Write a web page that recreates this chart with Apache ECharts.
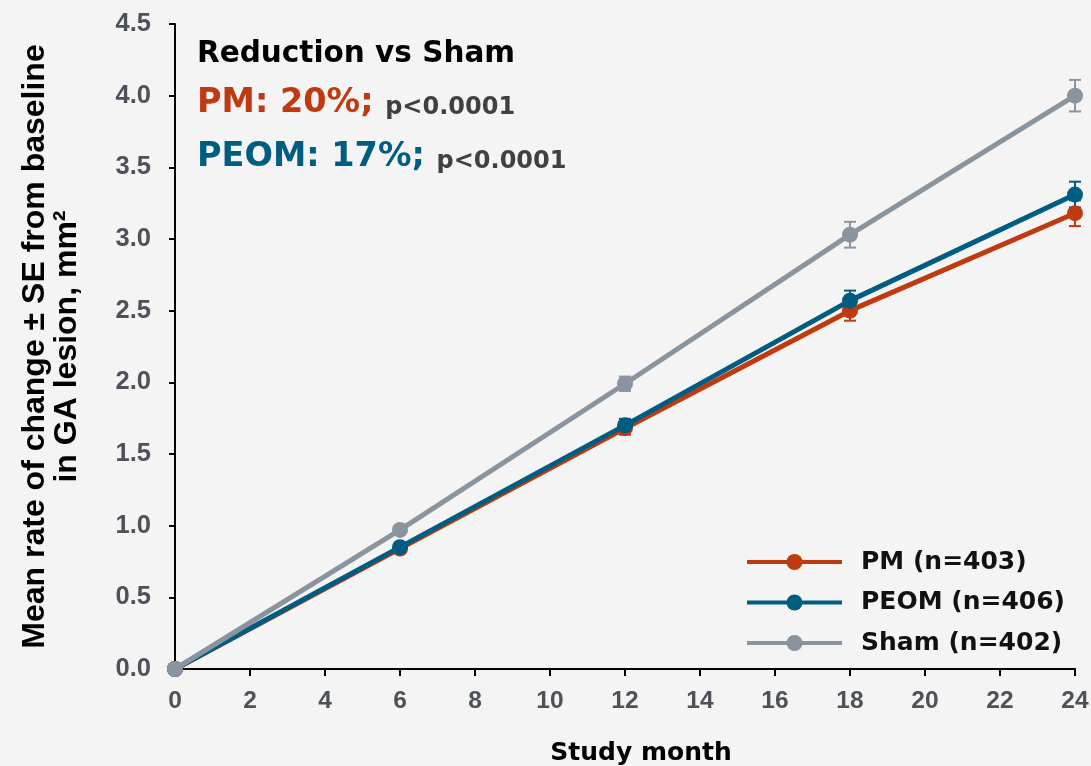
<!DOCTYPE html>
<html>
<head>
<meta charset="utf-8">
<script src="https://cdn.jsdelivr.net/npm/echarts@6/dist/echarts.min.js"></script>
<style>
  html, body { margin: 0; padding: 0; background: #f4f4f4; }
  #chart { width: 1091px; height: 766px; }
</style>
</head>
<body>
<div id="chart"></div>
<script>
// Study months at which the lesion change was assessed
const months = [0, 6, 12, 18, 24];

// Mean change from baseline in GA lesion area (mm²)
const pmMean   = [0, 0.84, 1.68, 2.50, 3.18];
const peomMean = [0, 0.85, 1.70, 2.57, 3.31];
const shamMean = [0, 0.97, 1.99, 3.03, 4.00];

// Standard errors
const pmSE   = [0, 0.02, 0.045, 0.07, 0.09];
const peomSE = [0, 0.02, 0.045, 0.07, 0.09];
const shamSE = [0, 0.02, 0.05, 0.09, 0.11];

const seriesNames = ['PM (n=403)', 'PEOM (n=406)', 'Sham (n=402)'];
const colors = { pm: '#c1390f', peom: '#005d82', sham: '#8a949e' };

const WIDE = '"DejaVu Sans", sans-serif';
const SANS = '"Liberation Sans", Arial, sans-serif';

function pairs(ys) { return months.map((m, i) => [m, ys[i]]); }
function errData(ys, se) { return months.map((m, i) => [m, ys[i] - se[i], ys[i] + se[i]]); }

// Vertical ±SE whiskers with short caps
function errorBars(name, ys, se, color) {
  return {
    type: 'custom',
    name: name + ' SE',
    data: errData(ys, se),
    z: 3,
    silent: true,
    renderItem: function (params, api) {
      const x = api.value(0);
      const lo = api.coord([x, api.value(1)]);
      const hi = api.coord([x, api.value(2)]);
      const w = 6;
      const style = { stroke: color, lineWidth: 2, fill: null };
      return {
        type: 'group',
        children: [
          { type: 'line', shape: { x1: lo[0], y1: lo[1], x2: hi[0], y2: hi[1] }, style: style },
          { type: 'line', shape: { x1: lo[0] - w, y1: lo[1], x2: lo[0] + w, y2: lo[1] }, style: style },
          { type: 'line', shape: { x1: hi[0] - w, y1: hi[1], x2: hi[0] + w, y2: hi[1] }, style: style }
        ]
      };
    }
  };
}

function lineSeries(name, ys, color, z) {
  return {
    type: 'line',
    name: name,
    data: pairs(ys),
    z: z,
    symbol: 'circle',
    symbolSize: 16,
    lineStyle: { width: 5, color: color },
    itemStyle: { color: color },
    emphasis: { disabled: true },
    animation: false
  };
}

const chart = echarts.init(document.getElementById('chart'));

chart.setOption({
  backgroundColor: '#f4f4f4',
  animation: false,
  grid: { left: 175, right: 16, top: 24, bottom: 97, outerBoundsMode: 'none', containLabel: false },
  xAxis: {
    type: 'value',
    min: 0, max: 24, interval: 2,
    name: 'Study month',
    nameLocation: 'middle',
    nameGap: 72,
    nameTextStyle: { fontFamily: WIDE, fontWeight: 'bold', fontSize: 25, color: '#000', padding: [0, 0, 0, 32] },
    axisLine: { lineStyle: { color: '#000', width: 2 } },
    axisTick: { show: true, length: 7, lineStyle: { color: '#000', width: 2 } },
    axisLabel: { fontFamily: SANS, fontWeight: 'bold', fontSize: 24.5, color: '#4d5159', margin: 20 },
    splitLine: { show: false }
  },
  yAxis: {
    type: 'value',
    min: 0, max: 4.5, interval: 0.5,
    name: 'Mean rate of change ± SE from baseline\nin GA lesion, mm²',
    nameLocation: 'middle',
    nameGap: 92,
    nameRotate: 90,
    nameTextStyle: { fontFamily: SANS, fontWeight: 'bold', fontSize: 32, color: '#000', lineHeight: 32 },
    axisLine: { show: true, lineStyle: { color: '#000', width: 2 } },
    axisTick: { show: true, length: 6, lineStyle: { color: '#000', width: 2 } },
    axisLabel: {
      fontFamily: SANS, fontWeight: 'bold', fontSize: 25.5, color: '#4d5159', margin: 24,
      formatter: v => v.toFixed(1)
    },
    splitLine: { show: false }
  },
  legend: {
    orient: 'vertical',
    left: 745,
    top: 549.5,
    padding: 0,
    itemWidth: 95,
    itemHeight: 20,
    itemGap: 15.5,
    data: seriesNames,
    lineStyle: { width: 4 },
    textStyle: { fontFamily: WIDE, fontWeight: 'bold', fontSize: 25, color: '#111', padding: [0, 0, 0, 14] }
  },
  graphic: [
    {
      type: 'text', left: 197, top: 39,
      style: { text: 'Reduction vs Sham', font: 'bold 29.5px ' + WIDE, fill: '#000' }
    },
    {
      type: 'text', left: 197, top: 86,
      style: {
        text: '{a|PM: 20%; }{b|p<0.0001}',
        rich: {
          a: { font: 'bold 33.5px ' + WIDE, fill: '#c1390f', verticalAlign: 'bottom' },
          b: { font: 'bold 24px ' + WIDE, fill: '#404040', verticalAlign: 'bottom' }
        }
      }
    },
    {
      type: 'text', left: 197, top: 140,
      style: {
        text: '{a|PEOM: 17%; }{b|p<0.0001}',
        rich: {
          a: { font: 'bold 33.5px ' + WIDE, fill: '#005d82', verticalAlign: 'bottom' },
          b: { font: 'bold 24px ' + WIDE, fill: '#404040', verticalAlign: 'bottom' }
        }
      }
    }
  ],
  series: [
    errorBars(seriesNames[0], pmMean, pmSE, colors.pm),
    errorBars(seriesNames[1], peomMean, peomSE, colors.peom),
    errorBars(seriesNames[2], shamMean, shamSE, colors.sham),
    lineSeries(seriesNames[0], pmMean, colors.pm, 4),
    lineSeries(seriesNames[1], peomMean, colors.peom, 5),
    lineSeries(seriesNames[2], shamMean, colors.sham, 6)
  ]
});
</script>
</body>
</html>
